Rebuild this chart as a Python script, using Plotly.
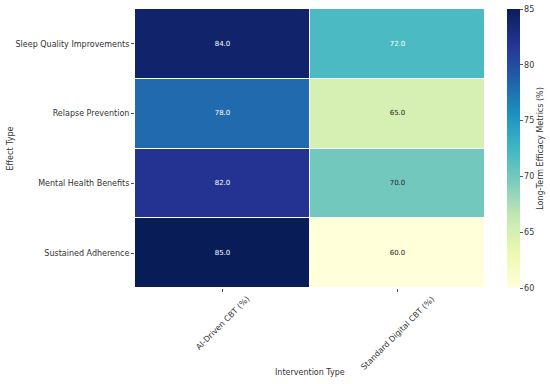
import plotly.graph_objects as go
from plotly.colors import sample_colorscale, unlabel_rgb

effect_types = ["Sleep Quality Improvements", "Relapse Prevention", "Mental Health Benefits", "Sustained Adherence"]
interventions = ["AI-Driven CBT (%)", "Standard Digital CBT (%)"]
ai_driven = [84.0, 78.0, 82.0, 85.0]
standard_digital = [72.0, 65.0, 70.0, 60.0]
cbar_ticks = [60, 65, 70, 75, 80, 85]

ylgnbu = ["#ffffd9", "#edf8b1", "#c7e9b4", "#7fcdbb", "#41b6c4",
          "#1d91c0", "#225ea8", "#253494", "#081d58"]
colorscale = [[i / (len(ylgnbu) - 1), c] for i, c in enumerate(ylgnbu)]
ZMIN, ZMAX = 60, 85

z = [[a, s] for a, s in zip(ai_driven, standard_digital)]


def lum(rgb):
    out = []
    for c in rgb:
        c = c / 255
        out.append(c / 12.92 if c <= 0.03928 else ((c + 0.055) / 1.055) ** 2.4)
    return 0.2126 * out[0] + 0.7152 * out[1] + 0.0722 * out[2]


tx, ty, tt, tc = [], [], [], []
for i, eff in enumerate(effect_types):
    for j, inter in enumerate(interventions):
        v = z[i][j]
        col = sample_colorscale(colorscale, [(v - ZMIN) / (ZMAX - ZMIN)])[0]
        rgb = unlabel_rgb(col)
        tx.append(inter)
        ty.append(eff)
        tt.append(f"{v:.1f}")
        tc.append("#262626" if lum(rgb) > 0.408 else "white")

L, R, T, B = 135, 65, 9, 96
W, H = 550, 384
pw = W - L - R
ph = H - T - B
FONT = dict(family="DejaVu Sans", size=8, color="#333")

fig = go.Figure()
fig.add_trace(go.Heatmap(
    z=z, x=interventions, y=effect_types,
    colorscale=colorscale, zmin=ZMIN, zmax=ZMAX,
    xgap=1, ygap=1,
    colorbar=dict(
        x=(507 - L) / pw, xanchor="left", xpad=0, ypad=0,
        y=0, yanchor="bottom", len=1, lenmode="fraction",
        thickness=13, outlinewidth=0,
        tickvals=cbar_ticks, ticks="outside", ticklen=3, tickcolor="#555",
        tickfont=FONT,
        title=dict(text="Long-Term Efficacy Metrics (%)", side="right", font=FONT),
    ),
))
fig.add_trace(go.Scatter(
    x=tx, y=ty, text=tt, mode="text",
    textfont=dict(family="DejaVu Sans", size=7, color=tc),
    showlegend=False, hoverinfo="skip",
))

annotations = [
    dict(text=lab, xref="x", yref="paper", x=lab, y=0, yshift=-4,
         xanchor="center", yanchor="top", textangle=-45,
         showarrow=False, font=FONT)
    for lab in interventions
]
annotations += [
    dict(text="Intervention Type", xref="paper", yref="paper",
         x=0.5, y=-(373 - 288) / ph, yanchor="middle",
         showarrow=False, font=FONT),
    dict(text="Effect Type", xref="paper", yref="paper",
         x=-(L - 10) / pw, xanchor="center", y=0.5, textangle=-90,
         showarrow=False, font=FONT),
]

fig.update_layout(
    width=W, height=H,
    margin=dict(l=L, r=R, t=T, b=B, pad=0, autoexpand=False),
    paper_bgcolor="white", plot_bgcolor="white",
    font=FONT,
    xaxis=dict(showticklabels=False, ticks="outside", ticklen=3, tickcolor="#555",
               showgrid=False, zeroline=False, automargin=False),
    yaxis=dict(autorange="reversed", ticks="outside", ticklen=3, tickcolor="#555",
               showgrid=False, zeroline=False, automargin=False, tickfont=FONT),
    annotations=annotations,
)

fig.write_html("out.html", config={"displayModeBar": False},
               post_script="document.body.style.margin='0px';")
